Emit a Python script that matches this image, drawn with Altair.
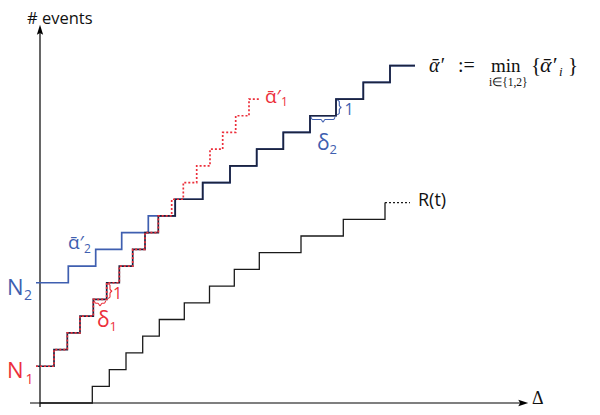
import altair as alt
import pandas as pd

# ---------------- data (time in units, events in counts) ----------------
# arrival curve alpha'_1 (red, dotted): starts at N1, +1 event at each riser
N1 = 2.2
alpha1_start = -0.4
alpha1_risers = [1.4, 2.73, 4.0, 5.33, 6.67, 7.93, 9.27, 10.5, 11.83, 13.17,
                 14.33, 15.67, 17.0, 18.27, 19.57, 20.9]
alpha1_end = 22.0

# arrival curve alpha'_2 (blue): starts at N2
N2 = 7.2
alpha2_start = -0.4
alpha2_risers = [2.83, 5.57, 8.17, 10.83, 13.52, 16.27, 19.0, 21.67, 24.33,
                 27.0, 29.6, 32.33, 35.0]
alpha2_end = 37.5

# service / request curve R(t)
R_start = 0.0
R_risers = [5.23, 6.93, 8.6, 10.27, 11.93, 14.43, 16.95, 19.43, 21.93, 26.1,
            30.33, 34.5]
R_tail_end = 37.0

# scale set-up (1 unit t = 10 px, 1 event = 16.7 px)
PX_T = 10.0
PX_Y = 16.7
X_DOMAIN = [-3.2, 55.2]
Y_DOMAIN = [-4 / PX_Y, -4 / PX_Y + 399 / PX_Y]

RED = "#ec2f3b"
BLUE = "#3f5fb0"
NAVY = "#1b2340"


def step_points(start, n0, risers, end):
    pts = [(start, n0)]
    for k, r in enumerate(risers):
        pts.append((r, n0 + k + 1))
    pts.append((end, n0 + len(risers)))
    return pd.DataFrame(pts, columns=["t", "y"])


def step_value(t, start, n0, risers, end):
    if t < start or t > end:
        return float("inf")
    return n0 + sum(1 for r in risers if r <= t)


a1 = step_points(alpha1_start, N1, alpha1_risers, alpha1_end)
a2 = step_points(alpha2_start, N2, alpha2_risers, alpha2_end)
R_solid = step_points(R_start, 0, R_risers, R_risers[-1])
R_tail = pd.DataFrame({"t": [R_risers[-1], R_tail_end],
                       "y": [len(R_risers)] * 2})

# min of the two arrival curves
bps = sorted(set([alpha1_start] + alpha1_risers + alpha2_risers + [alpha2_end]))
mpts = []
last = None
for b in bps:
    v = min(step_value(b, alpha1_start, N1, alpha1_risers, alpha1_end),
            step_value(b, alpha2_start, N2, alpha2_risers, alpha2_end))
    if v != last or b == bps[-1]:
        mpts.append((b, v))
        last = v
amin = pd.DataFrame(mpts, columns=["t", "y"])


def hbrace(x0, x1, level):
    # brace under a horizontal step, pixel offsets converted to data
    w = (x1 - x0) * PX_T
    offs = [(1, 1.5), (2.5, 3.8), (w / 2 - 2, 3.8), (w / 2, 6.3),
            (w / 2 + 2, 3.8), (w - 2.5, 3.8), (w - 1, 1.5)]
    return pd.DataFrame([{"t": x0 + dx / PX_T, "y": level - dy / PX_Y, "i": i}
                         for i, (dx, dy) in enumerate(offs)])


def vbrace(xr, lo, hi):
    h = (hi - lo) * PX_Y
    offs = [(1.2, 1), (3.3, 2.5), (3.3, h / 2 - 2), (5.5, h / 2),
            (3.3, h / 2 + 2), (3.3, h - 2.5), (1.2, h - 1)]
    return pd.DataFrame([{"t": xr + dx / PX_T, "y": lo + dy / PX_Y, "i": i}
                         for i, (dx, dy) in enumerate(offs)])


br1h = hbrace(alpha1_risers[3], alpha1_risers[4], N1 + 4)
br1v = vbrace(alpha1_risers[4], N1 + 4, N1 + 5)
br2h = hbrace(alpha2_risers[9], alpha2_risers[10], N2 + 10)
br2v = vbrace(alpha2_risers[10], N2 + 10, N2 + 11)

# axes (y from slightly below origin to the arrow, x likewise)
yaxis = pd.DataFrame({"t": [0, 0], "y": [-0.6, 22.2]})
xaxis = pd.DataFrame({"t": [-1.0, 48.2], "y": [0, 0]})
arrow_up = pd.DataFrame({"t": [0], "y": [22.33]})
arrow_right = pd.DataFrame({"t": [48.3], "y": [0]})

# ---------------- text annotations (left / baseline anchored) ----------------
sans_text = ["# events", "N", "2", "N", "1", "ᾱ′", "2", "ᾱ′", "1",
             "δ", "1", "1", "δ", "2", "1", "R(t)"]
sans_t = [-1.3, -3.3, -1.6, -3.3, -1.45, 2.8, 4.4, 22.5, 24.1,
          5.7, 6.95, 7.3, 27.7, 28.95, 30.45, 37.8]
sans_y = [22.69, 6.44, 6.17, 1.48, 1.14, 9.25, 8.98, 17.96, 17.78,
          4.57, 4.30, 6.23, 15.15, 14.90, 17.25, 11.77]
sans_size = [16.5, 22, 14, 22, 14, 19, 12, 19, 12, 21, 13, 16, 21, 13, 16, 18]
sans_col = ["#111111", BLUE, BLUE, RED, RED, BLUE, BLUE, RED, RED,
            RED, RED, RED, BLUE, BLUE, BLUE, "#111111"]

serif_text = [":=", "min", "i∈{1,2}", "{", "}", "Δ"]
serif_t = [41.8, 45.1, 44.9, 49.1, 52.8, 49.2]
serif_y = [19.85, 19.85, 19.01, 19.85, 19.85, -0.08]
serif_size = [20, 19, 11.5, 21, 21, 18]

ital_text = ["ᾱ′", "ᾱ′", "i"]
ital_t = [38.9, 50.0, 51.9]
ital_y = [19.85, 19.85, 19.58]
ital_size = [20, 22, 13]

sans_df = pd.DataFrame({"t": sans_t, "y": sans_y, "text": sans_text,
                        "size": sans_size, "col": sans_col})
serif_df = pd.DataFrame({"t": serif_t, "y": serif_y, "text": serif_text,
                         "size": serif_size})
ital_df = pd.DataFrame({"t": ital_t, "y": ital_y, "text": ital_text,
                        "size": ital_size})

# ---------------- chart ----------------
X = alt.X("t:Q", scale=alt.Scale(domain=X_DOMAIN, nice=False, zero=False), axis=None)
Y = alt.Y("y:Q", scale=alt.Scale(domain=Y_DOMAIN, nice=False, zero=False), axis=None)


def steps(df, color, width, dash=None):
    kw = dict(interpolate="step-after", color=color, strokeWidth=width)
    if dash:
        kw["strokeDash"] = dash
    return alt.Chart(df).mark_line(**kw).encode(x=X, y=Y)


def brace(df, color):
    return alt.Chart(df).mark_line(color=color, strokeWidth=1.1,
                                   interpolate="monotone").encode(
        x=X, y=Y, order="i:Q")


axis_y = alt.Chart(yaxis).mark_line(color="#000000", strokeWidth=1.2).encode(x=X, y=Y)
axis_x = alt.Chart(xaxis).mark_line(color="#000000", strokeWidth=1.2).encode(x=X, y=Y)
head_up = alt.Chart(arrow_up).mark_point(
    shape="M0,-1L-0.6,0.9L0,0.55L0.6,0.9Z", filled=True, color="#000000",
    size=110, opacity=1).encode(x=X, y=Y)
head_right = alt.Chart(arrow_right).mark_point(
    shape="M1,0L-0.9,-0.6L-0.55,0L-0.9,0.6Z", filled=True, color="#000000",
    size=110, opacity=1).encode(x=X, y=Y)

sans_layer = alt.Chart(sans_df).mark_text(
    font="Open Sans", align="left", baseline="alphabetic").encode(
    x=X, y=Y, text="text:N",
    size=alt.Size("size:Q", scale=None, legend=None),
    color=alt.Color("col:N", scale=None, legend=None))
serif_layer = alt.Chart(serif_df).mark_text(
    font="Liberation Serif", align="left", baseline="alphabetic",
    color="#111111").encode(
    x=X, y=Y, text="text:N", size=alt.Size("size:Q", scale=None, legend=None))
ital_layer = alt.Chart(ital_df).mark_text(
    font="Liberation Serif", fontStyle="italic", align="left",
    baseline="alphabetic", color="#111111").encode(
    x=X, y=Y, text="text:N", size=alt.Size("size:Q", scale=None, legend=None))

chart = alt.layer(
    axis_y, axis_x, head_up, head_right,
    steps(a2, BLUE, 1.7),
    steps(R_solid, "#1a1a1a", 1.3),
    steps(R_tail, "#1a1a1a", 1.2, [2, 2]),
    steps(amin, NAVY, 1.7),
    steps(a1, RED, 1.7, [2, 2]),
    brace(br1h, RED), brace(br1v, RED), brace(br2h, BLUE), brace(br2v, BLUE),
    sans_layer, serif_layer, ital_layer,
).properties(
    width=584, height=399, padding=0, autosize="none"
).configure_view(stroke=None)

chart.save("out.html", embed_options={"renderer": "svg", "actions": False})
